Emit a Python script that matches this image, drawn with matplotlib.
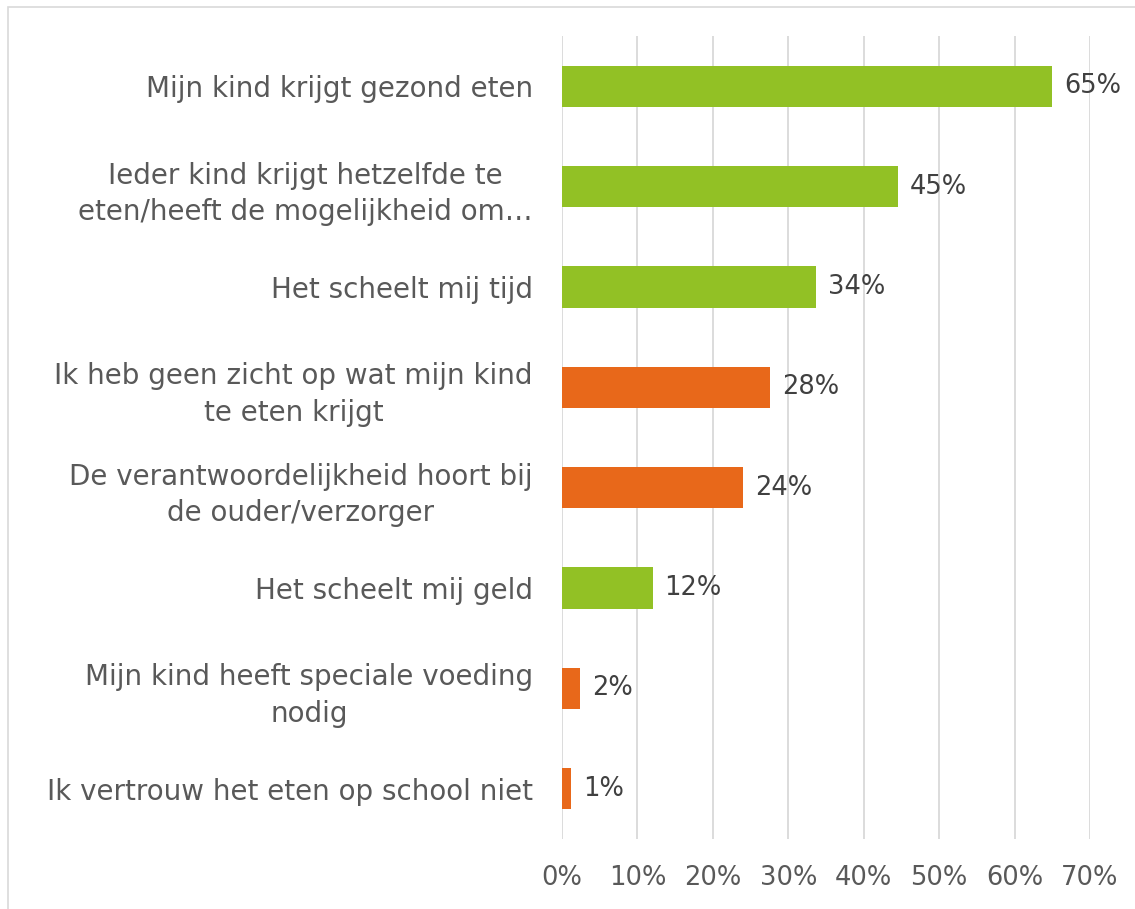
"""Horizontal bar chart — redenen voor schoolmaaltijden (reproduction)."""
import matplotlib
matplotlib.use("Agg")
import matplotlib.pyplot as plt
from matplotlib.patches import Rectangle

CATEGORIES = [
    "Mijn kind krijgt gezond eten",
    "Ieder kind krijgt hetzelfde te\neten/heeft de mogelijkheid om…",
    "Het scheelt mij tijd",
    "Ik heb geen zicht op wat mijn kind\nte eten krijgt",
    "De verantwoordelijkheid hoort bij\nde ouder/verzorger",
    "Het scheelt mij geld",
    "Mijn kind heeft speciale voeding\nnodig",
    "Ik vertrouw het eten op school niet",
]
VALUES = [0.65, 0.445, 0.337, 0.276, 0.24, 0.12, 0.024, 0.012]
LABELS = ["65%", "45%", "34%", "28%", "24%", "12%", "2%", "1%"]
POSITIVE = [True, True, True, False, False, True, False, False]
TICKS = [0, 0.1, 0.2, 0.3, 0.4, 0.5, 0.6, 0.7]

GREEN = "#92C125"
ORANGE = "#E8681A"
TEXT = "#404040"
LABEL = "#595959"
GRID = "#D9D9D9"
FS = 20
FS_NUM = 18.5

plt.rcParams["font.family"] = ["DejaVu Sans"]

fig = plt.figure(figsize=(11.35, 9.09), dpi=100)
fig.patches.append(Rectangle((8 / 1135, -0.1), 1.2, (909 - 7) / 909 + 0.1,
                             transform=fig.transFigure, fill=False,
                             edgecolor=GRID, linewidth=1.2))
ax = fig.add_axes([562 / 1135, 70 / 909, 528 / 1135, 803 / 909])

y = list(range(len(CATEGORIES)))
colors = [GREEN if p else ORANGE for p in POSITIVE]
ax.barh(y, VALUES, height=0.41, color=colors, zorder=3)
for yi, v, lab in zip(y, VALUES, LABELS):
    ax.text(v + 0.016, yi, lab, va="center", ha="left", fontsize=FS_NUM, color=TEXT)

ax.set_ylim(len(CATEGORIES) - 0.5, -0.5)
ax.set_xlim(0, 0.7)
ax.set_yticks(y)
ax.set_yticklabels(CATEGORIES, fontsize=FS, color=LABEL, ha="right",
                   multialignment="center", linespacing=1.4)
ax.set_xticks(TICKS)
ax.set_xticklabels([f"{int(round(t * 100))}%" for t in TICKS], fontsize=FS_NUM, color=LABEL)
ax.tick_params(axis="y", length=0, pad=21)
ax.tick_params(axis="x", length=0, pad=19)
ax.grid(axis="x", color=GRID, linewidth=1.3, zorder=0)
for s in ax.spines.values():
    s.set_visible(False)

fig.savefig("out.png", dpi=100)
